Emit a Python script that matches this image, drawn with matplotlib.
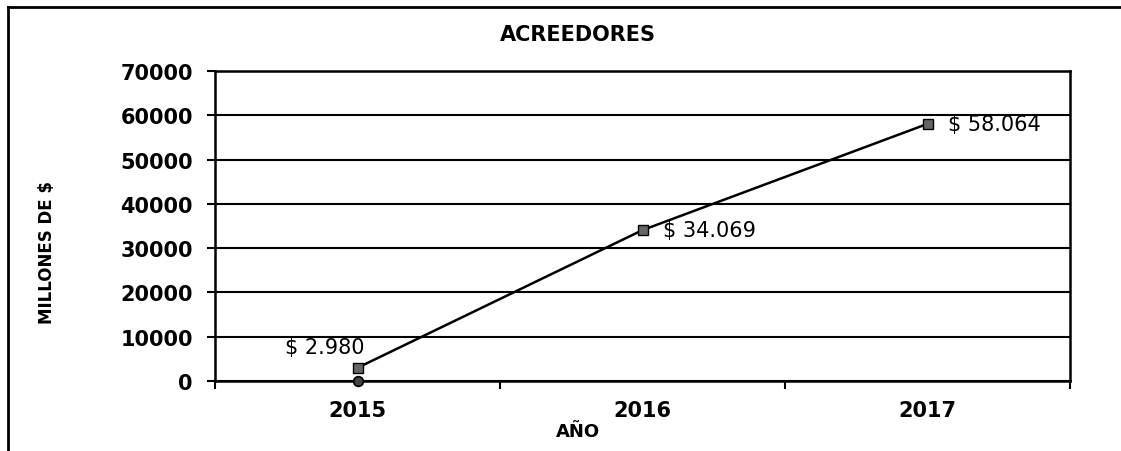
import matplotlib
matplotlib.use("Agg")
import matplotlib.pyplot as plt
from matplotlib.lines import Line2D

years = ["2015", "2016", "2017"]
acreedores = [2980, 34069, 58064]
valor_labels = ["$ 2.980", "$ 34.069", "$ 58.064"]
base_years = [0]          # punto suelto en 2015
base_values = [0]
yticks = [0, 10000, 20000, 30000, 40000, 50000, 60000, 70000]

plt.rcParams['font.family'] = ['DejaVu Sans']

fig = plt.figure(figsize=(11.21, 4.52), dpi=100)
ax = fig.add_axes([215/1121, 1-382/452, (1070-215)/1121, (382-72)/452])

x = list(range(len(years)))
ax.plot(x, acreedores, color="black", lw=1.8, marker="s", ms=7,
        mfc="#666666", mec="black", mew=1, zorder=4)
ax.plot(base_years, base_values, ls="none", marker="o", ms=7,
        mfc="#444444", mec="black", mew=1.2, zorder=5, clip_on=False)

# etiquetas de datos
ax.annotate(valor_labels[0], (x[0], acreedores[0]), xytext=(5, 8),
            textcoords="offset points", ha="right", va="bottom",
            fontsize=15, fontweight="medium")
for i in (1, 2):
    ax.annotate(valor_labels[i], (x[i], acreedores[i]), xytext=(15, 0),
                textcoords="offset points", ha="left", va="center",
                fontsize=15, fontweight="medium")

ax.set_xlim(-0.5, 2.5)
ax.set_ylim(0, 70000)
ax.set_yticks(yticks)
ax.set_yticklabels([str(v) for v in yticks], fontsize=15, fontweight="bold")
ax.yaxis.grid(True, color="black", lw=1.5)
ax.set_axisbelow(True)

ax.set_xticks([-0.5, 0.5, 1.5, 2.5])
ax.set_xticklabels([])
ax.set_xticks(x, minor=True)
ax.set_xticklabels(years, minor=True, fontsize=15, fontweight="bold")
ax.tick_params(axis="x", which="major", length=6, width=1.5, direction="out")
ax.tick_params(axis="x", which="minor", length=0, pad=14)
ax.tick_params(axis="y", length=6, width=1.5, pad=10)

for s in ax.spines.values():
    s.set_linewidth(1.8)
    s.set_color("black")

fig.text(578/1121, 1-35/452, "ACREEDORES", ha="center", va="center",
         fontsize=15, fontweight="bold")
fig.text(578/1121, 1-432/452, "AÑO", ha="center", va="center",
         fontsize=13, fontweight="bold")
fig.text(47/1121, 1-252/452, "MILLONES DE $", ha="center", va="center",
         rotation=90, fontsize=12, fontweight="bold")

# marco escaneado (solo borde superior e izquierdo visibles)
fig.add_artist(Line2D([8/1121, 8/1121], [0, 1-8/452], color="black", lw=2,
                      transform=fig.transFigure))
fig.add_artist(Line2D([8/1121, 1], [1-8/452, 1-8/452], color="black", lw=2,
                      transform=fig.transFigure))

fig.savefig("out.png", dpi=100)
